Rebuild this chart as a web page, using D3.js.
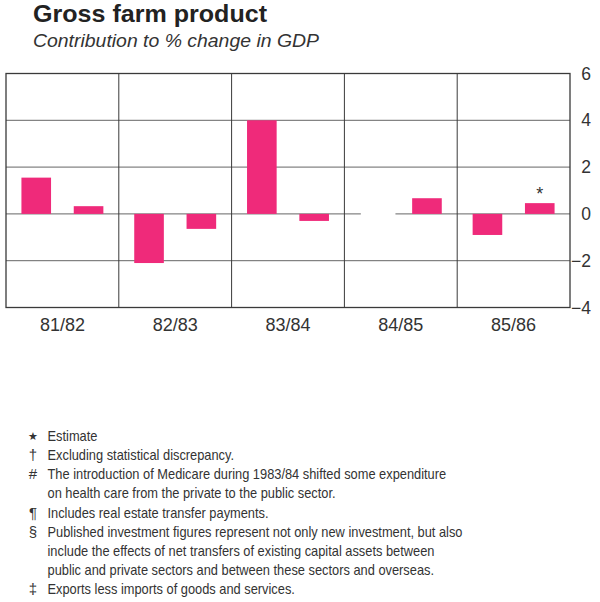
<!DOCTYPE html>
<html>
<head>
<meta charset="utf-8">
<script src="https://cdn.jsdelivr.net/npm/d3@7"></script>
<style>
  html, body { margin: 0; padding: 0; background: #fff; }
  svg { display: block; font-family: "Liberation Sans", Arial, Helvetica, sans-serif; }
</style>
</head>
<body>
<svg id="chart" width="600" height="602"></svg>
<script>
// ---- data ----
const years = ["81/82", "82/83", "83/84", "84/85", "85/86"];
const firstBar = [1.55, -2.1, 4.0, 0, -0.9];
const secondBar = [0.33, -0.64, -0.3, 0.67, 0.46];
const estimateFlag = [[false, false], [false, false], [false, false], [false, false], [false, true]];
const yTicks = [6, 4, 2, 0, -2, -4];
const title = "Gross farm product";
const subtitle = "Contribution to % change in GDP";
const footSymbols = ["★", "†", "#", "", "¶", "§", "", "", "‡"];
const footLines = [
  "Estimate",
  "Excluding statistical discrepancy.",
  "The introduction of Medicare during 1983/84 shifted some expenditure",
  "on health care from the private to the public sector.",
  "Includes real estate transfer payments.",
  "Published investment figures represent not only new investment, but also",
  "include the effects of net transfers of existing capital assets between",
  "public and private sectors and between these sectors and overseas.",
  "Exports less imports of goods and services."
];

// ---- layout ----
const svg = d3.select("#chart");
const L = 6, R = 570, T = 73.5, B = 307.5;
const barColor = "#ef2a7a";
const lineColor = "#3a3a3a";

const x = d3.scaleBand().domain(years).range([L, R]).padding(0);
const xi = d3.scaleBand().domain([0, 1]).range([0, x.bandwidth()]).paddingInner(0.434).paddingOuter(0.295);
const y = d3.scaleLinear().domain([-4, 6]).range([B, T]);

const bars = [];
years.forEach((yr, i) => {
  [firstBar[i], secondBar[i]].forEach((v, j) => bars.push({ yr, j, v, est: estimateFlag[i][j] }));
});

// title
svg.append("text").attr("x", 33).attr("y", 22)
  .attr("font-size", 24).attr("font-weight", "bold").attr("fill", "#222")
  .attr("textLength", 234).attr("lengthAdjust", "spacingAndGlyphs").text(title);
svg.append("text").attr("x", 33).attr("y", 47)
  .attr("font-size", 17.5).attr("font-style", "italic").attr("fill", "#333")
  .attr("textLength", 286).attr("lengthAdjust", "spacingAndGlyphs").text(subtitle);

// horizontal grid lines (zero line broken where a value is nil)
const gaps = bars.filter(d => d.v === 0).map(d => {
  const x0 = x(d.yr) + xi(d.j);
  return [x0 + 1, x0 + xi.bandwidth() + 6];
});
yTicks.filter(t => t > -4 && t < 6).forEach(t => {
  if (t === 0 && gaps.length) {
    let start = L;
    const segs = [];
    gaps.forEach(g => { segs.push([start, g[0]]); start = g[1]; });
    segs.push([start, R]);
    segs.forEach(s => svg.append("line").attr("x1", s[0]).attr("x2", s[1])
      .attr("y1", y(t)).attr("y2", y(t)).attr("stroke", "#555").attr("stroke-width", 0.9));
  } else {
    svg.append("line").attr("x1", L).attr("x2", R).attr("y1", y(t)).attr("y2", y(t))
      .attr("stroke", "#555").attr("stroke-width", 0.9);
  }
});

// vertical dividers
svg.selectAll("line.div").data(years.slice(1)).join("line").attr("class", "div")
  .attr("x1", d => x(d)).attr("x2", d => x(d)).attr("y1", T).attr("y2", B)
  .attr("stroke", lineColor).attr("stroke-width", 1);

// bars
svg.selectAll("rect.bar").data(bars.filter(d => d.v !== 0)).join("rect").attr("class", "bar")
  .attr("x", d => x(d.yr) + xi(d.j))
  .attr("width", xi.bandwidth())
  .attr("y", d => y(Math.max(0, d.v)))
  .attr("height", d => Math.abs(y(d.v) - y(0)))
  .attr("fill", barColor);

// estimate markers
svg.selectAll("text.est").data(bars.filter(d => d.est)).join("text").attr("class", "est")
  .attr("x", d => x(d.yr) + xi(d.j) + xi.bandwidth() / 2)
  .attr("y", d => y(Math.max(0, d.v)) - 3)
  .attr("text-anchor", "middle").attr("font-size", 18).attr("fill", "#333").text("*");

// frame
svg.append("rect").attr("x", L).attr("y", T).attr("width", R - L).attr("height", B - T)
  .attr("fill", "none").attr("stroke", lineColor).attr("stroke-width", 1.3);

// right axis
const yAxis = d3.axisRight(y).tickValues(yTicks).tickSize(0).tickFormat(d3.format("d"));
const ga = svg.append("g").attr("transform", `translate(${R},0)`).call(yAxis);
ga.select(".domain").remove();
ga.selectAll("text").attr("x", 21).attr("text-anchor", "end")
  .attr("font-size", 17.5).attr("fill", "#333").attr("font-family", "Liberation Sans, Arial, sans-serif");

// bottom labels
const xAxis = d3.axisBottom(x).tickSize(0).tickPadding(0);
const gx = svg.append("g").attr("transform", `translate(0,${B})`).call(xAxis);
gx.select(".domain").remove();
gx.selectAll("text").attr("dy", 0).attr("y", 23.5).attr("font-size", 18).attr("fill", "#333")
  .attr("font-family", "Liberation Sans, Arial, sans-serif");

// footnotes
const fy0 = 440.7, fdy = 19.2;
const fg = svg.append("g");
const ftexts = fg.selectAll("text.fn").data(footLines).join("text").attr("class", "fn")
  .attr("x", 47.5).attr("y", (d, i) => fy0 + i * fdy)
  .attr("font-size", 14.5).attr("fill", "#333").text(d => d);
const widest = d3.max(ftexts.nodes(), n => n.getComputedTextLength());
const sc = 415 / widest;
ftexts.each(function () {
  const w = this.getComputedTextLength();
  d3.select(this).attr("textLength", w * sc).attr("lengthAdjust", "spacingAndGlyphs");
});
fg.selectAll("text.sym").data(footSymbols).join("text").attr("class", "sym")
  .attr("x", 33).attr("y", (d, i) => fy0 + i * fdy - (d === "★" ? 1 : 0))
  .attr("text-anchor", "middle").attr("font-size", d => d === "★" ? 11 : 15).attr("fill", "#333")
  .text(d => d);
</script>
</body>
</html>
